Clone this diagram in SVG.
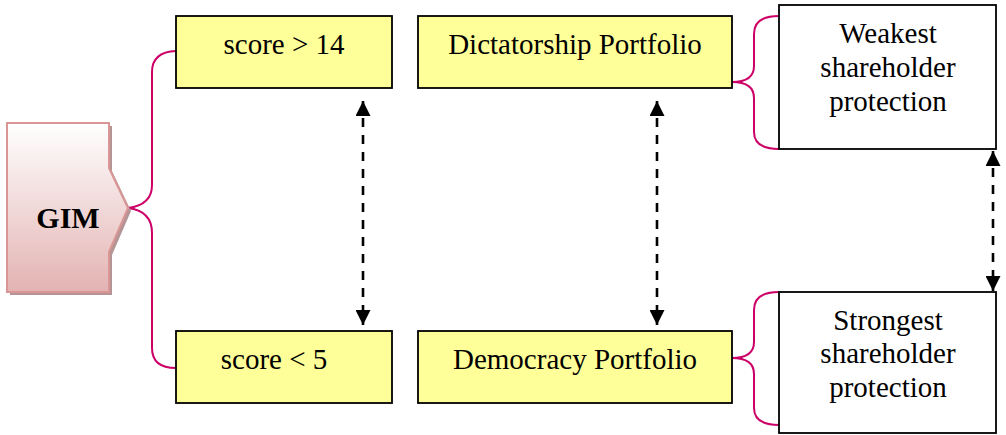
<svg xmlns="http://www.w3.org/2000/svg" width="1006" height="435" viewBox="0 0 1006 435">
<defs>
<linearGradient id="gimGrad" x1="0" y1="0" x2="0" y2="1">
<stop offset="0" stop-color="#ffffff"/>
<stop offset="1" stop-color="#e3b3b2"/>
</linearGradient>
<marker id="ah" viewBox="0 0 10 10" refX="10" refY="5" markerWidth="15" markerHeight="15" markerUnits="userSpaceOnUse" orient="auto-start-reverse">
<path d="M0,0 L10,5 L0,10 Z" fill="#000"/>
</marker>
<style>
.yel{fill:#ffff99;stroke:#000;stroke-width:1.8}
.wht{fill:#fff;stroke:#000;stroke-width:1.8}
.txt{font-family:"Liberation Serif","Times New Roman",serif;font-size:29px;fill:#000;text-anchor:middle}
.brace{fill:none;stroke:#cc0066;stroke-width:2}
.dash{fill:none;stroke:#000;stroke-width:2.6;stroke-dasharray:9 8}
</style>
</defs>
<rect width="1006" height="435" fill="#fff"/>
<g id="connectors">
<path class="brace" d="M128,208 Q152,205 152,185 V72 Q152,52 176,51"/>
<path class="brace" d="M128,208 Q152,211 152,233 V348 Q152,368 176,368"/>
<path class="brace" d="M779,16 Q754,16 754,34 V66 Q754,82 732,82 Q754,82 754,98 V132 Q754,149 779,149"/>
<path class="brace" d="M779,292 Q754,292 754,310 V342 Q754,358 732,358 Q754,358 754,374 V408 Q754,425 779,425"/>
<path class="dash" d="M363,101 V325" marker-start="url(#ah)" marker-end="url(#ah)"/>
<path class="dash" d="M657,101 V325" marker-start="url(#ah)" marker-end="url(#ah)"/>
<path class="dash" d="M993,151 V291" marker-start="url(#ah)" marker-end="url(#ah)"/>
</g>
<g id="gim">
<path d="M10,126 H112 V171 L131,211 L112,255 V295 H10 Z" fill="#b49494"/>
<path d="M7,123 H109 V168 L128,208 L109,252 V292 H7 Z" fill="url(#gimGrad)" stroke="#d99694" stroke-width="2"/>
<text x="68" y="228" style="font-family:'Liberation Serif','Times New Roman',serif;font-size:30px;font-weight:bold;text-anchor:middle">GIM</text>
</g>
<g id="score-high">
<rect class="yel" x="176" y="16" width="216" height="72"/>
<text class="txt" x="284" y="54">score &gt; 14</text>
</g>
<g id="score-low">
<rect class="yel" x="176" y="331" width="216" height="72"/>
<text class="txt" x="274" y="369">score &lt; 5</text>
</g>
<g id="dictatorship">
<rect class="yel" x="418" y="16" width="314" height="72"/>
<text class="txt" x="575" y="54">Dictatorship Portfolio</text>
</g>
<g id="democracy">
<rect class="yel" x="418" y="331" width="314" height="72"/>
<text class="txt" x="575" y="369">Democracy Portfolio</text>
</g>
<g id="weakest">
<rect class="wht" x="779" y="5" width="217" height="144"/>
<text class="txt" x="888" y="43">Weakest</text>
<text class="txt" x="888" y="77">shareholder</text>
<text class="txt" x="888" y="111">protection</text>
</g>
<g id="strongest">
<rect class="wht" x="779" y="292" width="217" height="141"/>
<text class="txt" x="888" y="330">Strongest</text>
<text class="txt" x="888" y="363">shareholder</text>
<text class="txt" x="888" y="397">protection</text>
</g>
</svg>
